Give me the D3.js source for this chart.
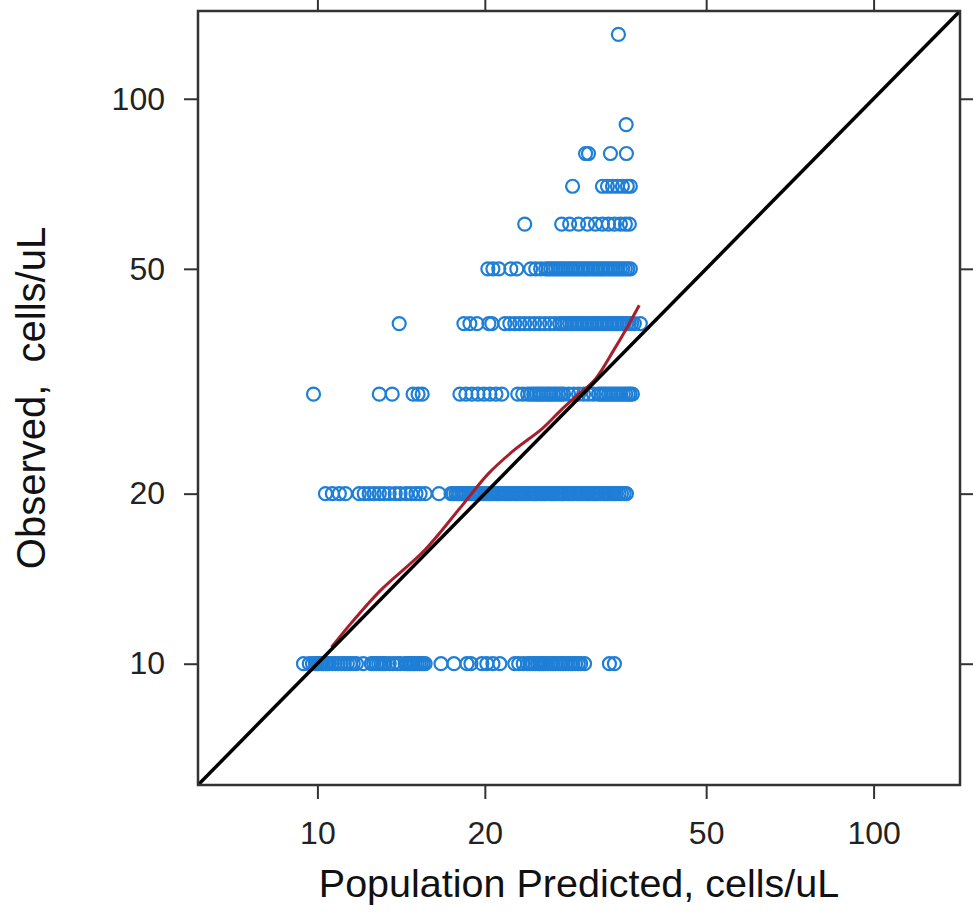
<!DOCTYPE html>
<html>
<head>
<meta charset="utf-8">
<script src="https://cdnjs.cloudflare.com/ajax/libs/d3/7.8.5/d3.min.js"></script>
<style>
	body { margin: 0; background: #fff; }
	text { font-family: "Liberation Sans", Arial, sans-serif; }
	.axis path.domain { display: none; }
	.axis line { stroke: #333; stroke-width: 2px; }
	.axis text { fill: #222; font-size: 32px; }
	.pts circle { fill: none; stroke: #1f7fd6; stroke-width: 2.2px; }
</style>
</head>
<body>
<div id="chart"></div>
<script>
	'use strict'

	// observed levels and the predicted values read for each row
	let obs10 = [9.44, 9.67, 9.80, 9.92, 10.0, 10.08, 10.17, 10.25, 10.34, 10.42, 10.51, 10.64, 10.77, 10.90, 11.04, 11.18, 11.32, 11.46, 11.60, 11.75, 12.09,
		12.50, 12.62, 12.76, 12.89, 13.02, 13.13, 13.24, 13.46, 13.68, 13.91, 14.10, 14.38, 14.50, 14.62, 14.74, 14.86, 14.98, 15.11, 15.24, 15.36, 15.49, 15.62,
		16.68, 17.60, 18.57, 18.88, 19.75, 20.17, 20.68, 21.28, 22.64, 23.01, 23.45, 23.88, 24.12, 24.38, 24.62, 24.89, 25.10, 25.30, 25.50, 25.73, 26.00,
		26.27, 26.55, 26.81, 27.10, 27.37, 27.65, 27.94, 28.25, 28.53, 28.80, 29.12, 29.45, 29.73, 30.22, 33.50, 34.20]
	let obs20 = [10.34, 10.64, 10.95, 11.23, 11.89, 12.14, 12.39, 12.65, 12.92, 13.18, 13.46, 13.80, 14.08, 14.44, 14.74, 15.04, 15.30, 15.62, 16.54,
		17.39, 17.55, 17.75, 17.90, 18.04, 18.20, 18.34, 18.50, 18.73, 18.90, 19.04, 19.20, 19.44, 19.60, 19.76, 19.95, 20.17, 20.35, 20.51, 20.70, 20.94,
		21.10, 21.28, 21.50, 21.73, 21.90, 22.09, 22.30, 22.55, 22.75, 22.92, 23.15, 23.40, 23.60, 23.79, 24.00, 24.28, 24.50, 24.69, 24.90,
		25.20, 25.40, 25.62, 25.85, 26.16, 26.40, 26.59, 26.85, 27.15, 27.40, 27.60, 27.85, 28.18, 28.40, 28.64, 28.90, 29.24, 29.50, 29.73, 30.00,
		30.35, 30.60, 30.85, 31.20, 31.49, 31.75, 32.01, 32.35, 32.68, 32.95, 33.23, 33.55, 33.92, 34.20, 34.49, 34.85, 35.21, 35.60, 35.94]
	let obs30 = [9.84, 12.92, 13.63, 14.86, 15.17, 15.43, 18.04, 18.49, 18.96, 19.44, 19.93, 20.42, 20.94, 21.46, 22.92, 23.40, 23.88, 24.20, 24.48,
		24.75, 25.00, 25.25, 25.52, 25.80, 26.05, 26.30, 26.59, 26.85, 27.15, 27.45, 27.71, 28.29, 28.88, 29.48, 30.10, 30.72, 31.36, 32.01, 32.35,
		32.68, 33.00, 33.37, 33.70, 34.06, 34.40, 34.77, 35.10, 35.49, 35.85, 36.23, 36.50, 36.84]
	let obs40 = [14.03, 18.34, 18.80, 19.36, 20.34, 20.59, 21.73, 22.18, 22.64, 23.11, 23.59, 24.08, 24.58, 25.10, 25.62, 26.16, 26.70, 27.26, 27.55,
		27.83, 28.10, 28.41, 28.70, 29.00, 29.30, 29.61, 29.90, 30.22, 30.55, 30.85, 31.15, 31.49, 31.80, 32.15, 32.50, 32.81, 33.15, 33.50, 33.85,
		34.20, 34.55, 34.91, 35.30, 35.64, 36.00, 36.38, 36.75, 37.14, 38.07]
	let obs50 = [20.25, 20.68, 21.19, 22.27, 22.83, 24.18, 24.69, 25.20, 25.73, 26.00, 26.27, 26.55, 26.81, 27.10, 27.37, 27.65, 27.94, 28.25, 28.53,
		28.80, 29.12, 29.40, 29.73, 30.05, 30.35, 30.65, 30.97, 31.30, 31.62, 31.95, 32.28, 32.60, 32.95, 33.30, 33.64, 34.00, 34.34, 34.70, 35.06,
		35.40, 35.79, 36.15, 36.53]
	let obs60 = [23.59, 27.49, 28.41, 29.48, 30.60, 31.62, 32.54, 33.37, 34.20, 35.06, 35.79, 36.38]
	let obs70 = [28.76, 32.54, 33.23, 33.92, 34.63, 35.35, 36.08, 36.53]
	let obs80 = [30.35, 30.72, 33.64, 35.94]
	let obs90 = [35.9]
	let obs130 = [34.77]

	let rows = [[10, obs10], [20, obs20], [30, obs30], [40, obs40], [50, obs50], [60, obs60], [70, obs70], [80, obs80], [90, obs90], [130, obs130]]

	// smoother (red)
	let smoothPred = [10.6, 11.5, 13.0, 15.6, 18.0, 20.3, 22.6, 25.4, 27.5, 29.5, 31.6, 34.1, 36.0, 37.9]
	let smoothObs = [10.7, 11.8, 13.5, 15.9, 18.8, 21.7, 23.9, 26.1, 28.2, 30.0, 31.9, 35.9, 39.3, 43.1]

	let tickVals = [10, 20, 50, 100]
	let limits = [6.1, 143]

	let W = 973, H = 915
	let panel = {left: 198, top: 11, right: 960, bottom: 785}

	let svg = d3.select('#chart').append('svg')
		.attr('width', W)
		.attr('height', H)

	let x = d3.scaleLog().domain(limits).range([panel.left, panel.right])
	let y = d3.scaleLog().domain(limits).range([panel.bottom, panel.top])

	svg.append('defs').append('clipPath').attr('id', 'clip')
		.append('rect')
		.attr('x', panel.left).attr('y', panel.top)
		.attr('width', panel.right - panel.left)
		.attr('height', panel.bottom - panel.top)

	// points
	let points = []
	rows.forEach(function(r){
		r[1].forEach(function(p){ points.push({pred: p, obs: r[0]}) })
	})

	svg.append('g').attr('class', 'pts').attr('clip-path', 'url(#clip)')
		.selectAll('circle')
		.data(points)
		.enter().append('circle')
		.attr('cx', function(d){ return x(d.pred) })
		.attr('cy', function(d){ return y(d.obs) })
		.attr('r', 6.5)

	let smooth = smoothPred.map(function(p, i){ return [p, smoothObs[i]] })
	let line = d3.line()
		.x(function(d){ return x(d[0]) })
		.y(function(d){ return y(d[1]) })
		.curve(d3.curveCatmullRom)

	svg.append('path')
		.datum(smooth)
		.attr('d', line)
		.attr('fill', 'none')
		.attr('stroke', '#a81e2c')
		.attr('stroke-width', 3)
		.attr('clip-path', 'url(#clip)')

	// identity line
	svg.append('path')
		.datum(limits.map(function(v){ return [v, v] }))
		.attr('d', d3.line().x(function(d){ return x(d[0]) }).y(function(d){ return y(d[1]) }))
		.attr('stroke', '#000')
		.attr('stroke-width', 3.5)
		.attr('clip-path', 'url(#clip)')

	// axes
	let fmt = d3.format('d')
	svg.append('g').attr('class', 'axis')
		.attr('transform', 'translate(' + panel.left + ',0)')
		.call(d3.axisLeft(y).tickValues(tickVals).tickFormat(fmt).tickSize(14).tickPadding(19))
	svg.append('g').attr('class', 'axis')
		.attr('transform', 'translate(0,' + panel.bottom + ')')
		.call(d3.axisBottom(x).tickValues(tickVals).tickFormat(fmt).tickSize(14).tickPadding(22))
	svg.append('g').attr('class', 'axis')
		.attr('transform', 'translate(0,' + panel.top + ')')
		.call(d3.axisTop(x).tickValues(tickVals).tickFormat('').tickSize(14))
	svg.append('g').attr('class', 'axis')
		.attr('transform', 'translate(' + panel.right + ',0)')
		.call(d3.axisRight(y).tickValues(tickVals).tickFormat('').tickSize(14))

	// frame
	svg.append('rect')
		.attr('x', panel.left).attr('y', panel.top)
		.attr('width', panel.right - panel.left)
		.attr('height', panel.bottom - panel.top)
		.attr('fill', 'none')
		.attr('stroke', '#333')
		.attr('stroke-width', 2.5)

	// titles
	svg.append('text')
		.attr('x', (panel.left + panel.right) / 2)
		.attr('y', 897)
		.attr('text-anchor', 'middle')
		.style('font-size', '39.5px')
		.style('fill', '#111')
		.text('Population Predicted, cells/uL')

	svg.append('text')
		.attr('transform', 'translate(45,' + (panel.top + panel.bottom) / 2 + ') rotate(-90)')
		.attr('text-anchor', 'middle')
		.style('font-size', '40px')
		.style('fill', '#111')
		.style('white-space', 'pre')
		.text('Observed,  cells/uL')
</script>
</body>
</html>
